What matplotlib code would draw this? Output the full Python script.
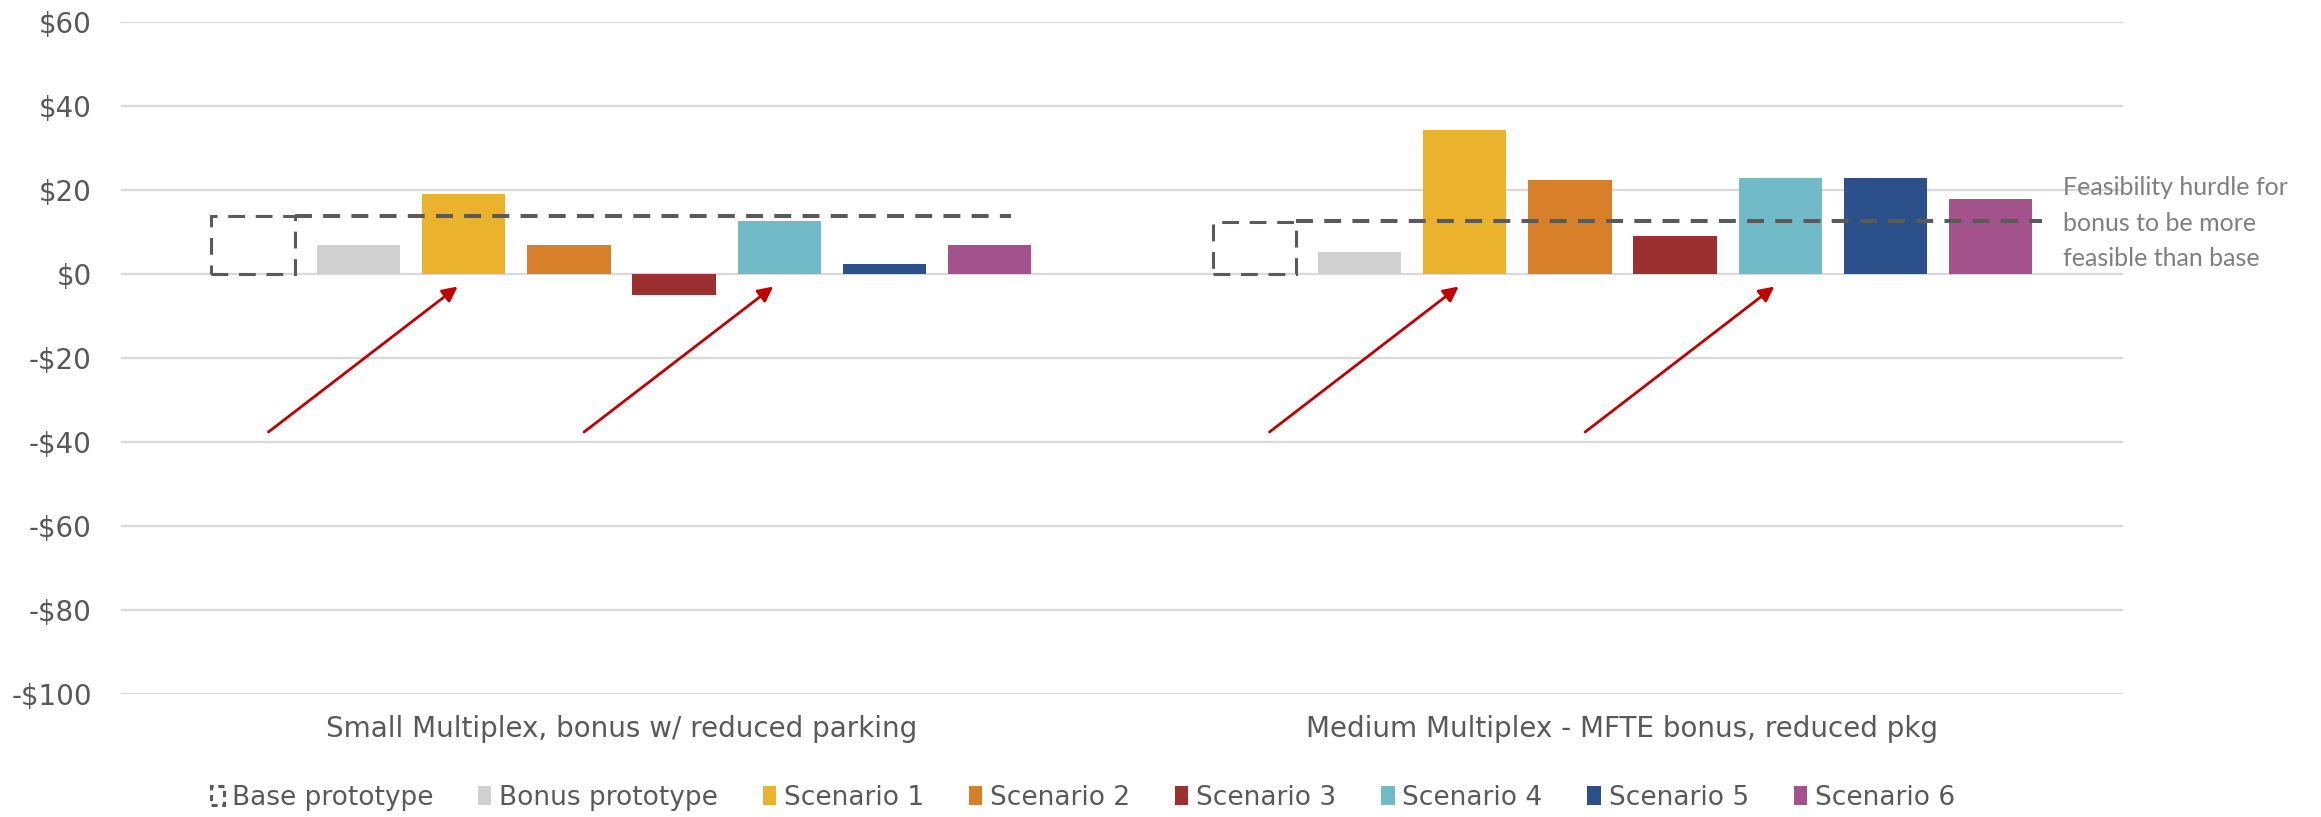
import matplotlib.pyplot as plt
import numpy as np
from matplotlib.patches import Rectangle

# Residual land value per sq ft, by prototype and scenario
categories = ["Small Multiplex, bonus w/ reduced parking",
              "Medium Multiplex - MFTE bonus, reduced pkg"]
base_prototype = [13.7, 12.3]
bonus_prototype = [6.9, 5.3]
scenario_1 = [18.9, 34.3]
scenario_2 = [6.9, 22.4]
scenario_3 = [-5.0, 9.0]
scenario_4 = [12.7, 22.8]
scenario_5 = [2.4, 22.8]
scenario_6 = [6.9, 17.8]
hurdle = [13.8, 12.7]

series_names = ["Bonus prototype", "Scenario 1", "Scenario 2", "Scenario 3",
                "Scenario 4", "Scenario 5", "Scenario 6"]
series_values = [bonus_prototype, scenario_1, scenario_2, scenario_3,
                 scenario_4, scenario_5, scenario_6]
colors = ["#D0D0D0", "#EAB22D", "#D88029", "#9C2F2F",
          "#71BBC9", "#2C508A", "#A3528B"]

yticks = [60, 40, 20, 0, -20, -40, -60, -80, -100]
ytick_labels = ["$60", "$40", "$20", "$0", "-$20", "-$40", "-$60", "-$80", "-$100"]

text_gray = "#595959"
dash_gray = "#5A5A5A"

fig = plt.figure(figsize=(23.21, 8.17), dpi=100)
ax = fig.add_axes([0.0521, 0.1502, 0.8626, 0.8232])

x = np.arange(len(categories))
pitch = 0.1051
width = 0.0834
n_bars = 8

def offset(j):
    return (j - (n_bars - 1) / 2) * pitch

# base prototype: dashed outline only
ax.bar(x + offset(0), base_prototype, width, facecolor="none",
       edgecolor=dash_gray, linewidth=2.2, linestyle=(0, (5.5, 3.5)),
       label="Base prototype", zorder=3)

for j, (name, vals, c) in enumerate(zip(series_names, series_values, colors), start=1):
    ax.bar(x + offset(j), vals, width, color=c, label=name, zorder=3)

# feasibility hurdle lines
for i in range(len(categories)):
    x0 = x[i] + offset(0) + width / 2
    x1 = x[i] + offset(7) + width / 2 - (0.02 if i == 0 else -0.01)
    ax.plot([x0, x1], [hurdle[i], hurdle[i]], color=dash_gray, linewidth=2.9,
            dashes=(4.2, 2.8), zorder=4)

ax.text(x[-1] + offset(7) + width / 2 + 0.03, hurdle[-1] - 0.6,
        "Feasibility hurdle for\nbonus to be more\nfeasible than base",
        fontsize=18, color="#7F7F7F", family="Lato", va="center", ha="left",
        linespacing=1.65)

# red arrows pointing at scenarios 1 and 4
for i in range(len(categories)):
    for j in (2, 5):
        tip = x[i] + offset(j) - 0.006
        ax.annotate("", xy=(tip, -3), xytext=(tip - 0.189, -37.6),
                    arrowprops=dict(arrowstyle="-|>,head_length=0.9,head_width=0.45",
                                    color="#C00000", lw=2.0,
                                    shrinkA=0, shrinkB=0), zorder=5)

ax.set_xlim(-0.5, 1.5)
ax.set_ylim(-100, 60)
ax.set_yticks(yticks)
ax.set_yticklabels(ytick_labels)
ax.set_xticks(x)
ax.set_xticklabels(categories)
ax.tick_params(axis="y", length=0, pad=21, labelsize=20, labelcolor=text_gray)
ax.tick_params(axis="x", length=0, pad=15, labelsize=20, labelcolor=text_gray)

ax.grid(axis="y", color="#D9D9D9", linewidth=1.6)
ax.set_axisbelow(True)
for s in ax.spines.values():
    s.set_visible(False)

handles, labels = ax.get_legend_handles_labels()
handles[0] = Rectangle((0, 0), 1, 1, facecolor="none", edgecolor=dash_gray,
                       linewidth=2.2, linestyle=(0, (2, 1.5)))
leg = fig.legend(handles, labels, loc="center", bbox_to_anchor=(0.4665, 0.0235),
                 ncol=8, frameon=False, handlelength=0.5, handleheight=0.7,
                 handletextpad=0.3, columnspacing=1.7,
                 prop={"size": 19})
for t in leg.get_texts():
    t.set_color(text_gray)

fig.savefig("out.png", dpi=100)
